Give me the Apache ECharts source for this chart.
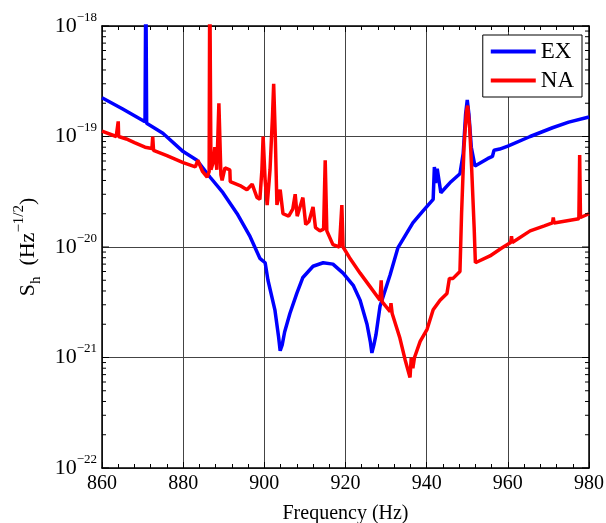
<!DOCTYPE html>
<html>
<head>
<meta charset="utf-8">
<script src="https://cdn.jsdelivr.net/npm/echarts@6/dist/echarts.min.js"></script>
<style>html,body{margin:0;padding:0;background:#fff}#c{width:606px;height:523px}</style>
</head>
<body>
<div id="c"></div>
<script>
// X tick labels
const xTicks = [860, 880, 900, 920, 940, 960, 980];
// Y decade exponents (tick labels 10^e)
const yExponents = [-22, -21, -20, -19, -18];

// EX series (frequency Hz, amplitude)
const exFreq = [860, 865, 870.6, 870.75, 870.8, 870.85, 871.0, 875, 880, 883.4, 886.6, 889.8, 893.3, 896.5, 898.9, 900.2, 900.9,
  902.6, 903.5, 903.9, 904.4, 905, 906.3, 908, 909.5, 912, 914.5, 916.9, 919.4, 921.9, 923.6, 925.3, 926.1, 926.5, 927, 927.5,
  928.5, 931, 932.9, 936.6, 939, 941.6, 941.9, 942.2, 942.6, 943.5, 946, 948.2, 949, 949.6, 950, 950.4, 951, 951.9, 955, 956.2,
  956.6, 958, 960, 965.5, 971, 975, 980];
const exVal = [2.24e-19, 1.78e-19, 1.36e-19, 1.35e-19, 3e-18, 3e-18, 1.32e-19, 1.07e-19, 7.3e-20, 6.1e-20, 4.3e-20, 3.1e-20, 2.0e-20, 1.24e-20, 7.9e-21, 7.2e-21, 5.0e-21,
  2.7e-21, 1.55e-21, 1.15e-21, 1.3e-21, 1.7e-21, 2.5e-21, 3.8e-21, 5.3e-21, 6.7e-21, 7.2e-21, 7.0e-21, 5.8e-21, 4.5e-21, 3.3e-21, 2.0e-21, 1.4e-21, 1.1e-21, 1.3e-21, 1.6e-21,
  2.9e-21, 5.6e-21, 9.8e-21, 1.65e-20, 2.1e-20, 2.7e-20, 5.3e-20, 3.8e-20, 5.1e-20, 3.1e-20, 3.9e-20, 4.6e-20, 7e-20, 1.6e-19, 2.14e-19, 1.6e-19, 8e-20, 5.4e-20, 6.3e-20, 6.6e-20,
  7.5e-20, 7.7e-20, 8.2e-20, 1.0e-19, 1.2e-19, 1.35e-19, 1.5e-19];

// NA series
const naFreq = [860, 863.5, 863.9, 864.0, 864.1, 866, 868, 870.6, 872.3, 872.5, 872.7, 876, 880, 883, 883.6, 884.8, 885.9, 886.4, 886.55, 886.7, 886.85,
  887.5, 887.8, 888.3, 888.8, 889.3, 889.6, 890.3, 891.5, 891.6, 894, 895.7, 897, 898.2, 898.9, 899.4, 899.7, 900.2, 900.7, 901.4, 902, 902.3, 902.7, 903.1,
  903.9, 904.6, 906, 907, 907.6, 908.1, 909.5, 910.2, 911, 912, 912.6, 913.7, 914.6, 915, 915.4, 916.9, 918.5, 919.1, 919.4, 921, 923.6, 926,
  928.5, 928.8, 929, 931, 931.2, 931.5, 933.4, 934.7, 935.9, 936.2, 936.6, 937, 938.4, 940.1, 941.6, 943.3, 945, 945.6, 946.5, 948.2, 948.6,
  949.2, 949.8, 950.1, 950.6, 951.1, 951.7, 952, 955.6, 958.5, 960.7, 960.9, 961.1, 965.5, 969, 971, 971.2, 971.4, 977.5, 977.7, 977.9, 980];
const naVal = [1.12e-19, 1.0e-19, 1.02e-19, 1.37e-19, 1.0e-19, 9.5e-20, 8.8e-20, 8.0e-20, 7.8e-20, 1.0e-19, 7.5e-20, 6.7e-20, 5.8e-20, 5.3e-20, 6.1e-20, 4.8e-20, 4.3e-20, 4.8e-20, 3e-18, 3e-18, 5e-20,
  6e-20, 8e-20, 5e-20, 2.0e-19, 4.5e-20, 4.0e-20, 5.2e-20, 5.0e-20, 3.9e-20, 3.6e-20, 3.3e-20, 3.7e-20, 2.8e-20, 2.7e-20, 5e-20, 1.0e-19, 4e-20, 2.4e-20, 5e-20, 1.5e-19, 3.0e-19, 1e-19, 2.4e-20,
  3.3e-20, 2.0e-20, 1.9e-20, 2.2e-20, 3.0e-20, 1.9e-20, 2.8e-20, 1.6e-20, 1.7e-20, 2.3e-20, 1.5e-20, 1.4e-20, 1.45e-20, 6.1e-20, 1.4e-20, 1.05e-20, 1.0e-20, 2.4e-20, 1.0e-20, 8e-21, 5.8e-21, 4.4e-21,
  3.3e-21, 5e-21, 3.2e-21, 2.6e-21, 3.1e-21, 2.5e-21, 1.5e-21, 9.5e-22, 6.6e-22, 1.0e-21, 8e-22, 1.0e-21, 1.4e-21, 1.8e-21, 2.7e-21, 3.3e-21, 3.8e-21, 5.2e-21, 5.2e-21, 6.0e-21, 2e-20,
  8e-20, 1.7e-19, 1.9e-19, 1.2e-19, 5e-20, 1.5e-20, 7.2e-21, 8.3e-21, 9.8e-21, 1.1e-20, 1.25e-20, 1.1e-20, 1.4e-20, 1.55e-20, 1.65e-20, 1.85e-20, 1.65e-20, 1.8e-20, 6.8e-20, 1.85e-20, 2.0e-20];

const seriesNames = ['EX', 'NA'];
const seriesColors = ['#0000ff', '#ff0000'];

// ECharts' log scale loses precision below ~1e-20, so the axis works in units of 1e-22
const E0 = yExponents[0];
const UNIT = Math.pow(10, E0);
const zip = (a, b) => a.map((v, i) => [v, b[i] / UNIT]);

const yMinU = 1, yMaxU = Math.pow(10, yExponents[yExponents.length - 1] - E0);
// log tick positions (major + minor), in axis units
const yTickVals = [];
for (let d = 0; d < yExponents.length - 1; d++) {
  for (let m = 1; m <= 9; m++) yTickVals.push([m, m * Math.pow(10, d)]);
}
yTickVals.push([1, yMaxU]);

const FONT = 'Liberation Serif';
const chart = echarts.init(document.getElementById('c'), null, {renderer: 'canvas'});
const xMin = xTicks[0], xMax = xTicks[xTicks.length - 1];

chart.setOption({
  animation: false,
  backgroundColor: '#fff',
  grid: {left: 102, right: 17, top: 26, bottom: 55, containLabel: false, outerBoundsMode: 'none'},
  legend: {
    data: seriesNames,
    orient: 'vertical',
    right: 24, top: 35,
    backgroundColor: '#fff',
    borderColor: '#000', borderWidth: 1,
    padding: [5, 8, 5, 8],
    itemGap: 6,
    itemWidth: 45, itemHeight: 4,
    icon: 'rect',
    textStyle: {fontFamily: FONT, fontSize: 23, color: '#000'}
  },
  xAxis: [{
    type: 'value', min: xMin, max: xMax, interval: 20,
    name: 'Frequency (Hz)', nameLocation: 'middle', nameGap: 36,
    nameTextStyle: {fontFamily: FONT, fontSize: 20, color: '#000'},
    axisLine: {show: true, lineStyle: {color: '#000', width: 1.5}},
    axisTick: {show: true, inside: true, length: 6, lineStyle: {color: '#000'}},
    minorTick: {show: true, splitNumber: 5, length: 4, lineStyle: {color: '#000'}},
    axisLabel: {fontFamily: FONT, fontSize: 20, color: '#000', margin: 6},
    splitLine: {show: true, lineStyle: {color: ['#444'], width: 1}}
  }, {
    type: 'value', min: xMin, max: xMax, interval: 20, position: 'top',
    axisLine: {show: true, lineStyle: {color: '#000', width: 1.5}},
    axisTick: {show: true, inside: true, length: 6, lineStyle: {color: '#000'}},
    minorTick: {show: true, splitNumber: 5, length: 4, lineStyle: {color: '#000'}},
    axisLabel: {show: false}, splitLine: {show: false}
  }],
  yAxis: [{
    type: 'log', logBase: 10, min: yMinU, max: yMaxU,
    name: '{n|S}{sub|h}{n|  (Hz}{sup|−1/2}{n|)}',
    nameLocation: 'middle', nameGap: 58,
    nameTextStyle: {
      color: '#000',
      rich: {
        n: {fontFamily: FONT, fontSize: 22, color: '#000', lineHeight: 32},
        sub: {fontFamily: FONT, fontSize: 15, color: '#000', verticalAlign: 'bottom', lineHeight: 15},
        sup: {fontFamily: FONT, fontSize: 15, color: '#000', verticalAlign: 'top', lineHeight: 15}
      }
    },
    axisLine: {show: true, lineStyle: {color: '#000', width: 1.5}},
    axisTick: {show: false},
    axisLabel: {
      margin: 5,
      formatter: v => '{b|10}{s|−' + (-(Math.round(Math.log10(v)) + E0)) + '}',
      rich: {
        b: {fontFamily: FONT, fontSize: 22, color: '#000', lineHeight: 30},
        s: {fontFamily: FONT, fontSize: 13, color: '#000', verticalAlign: 'top', lineHeight: 13}
      }
    },
    splitLine: {show: true, lineStyle: {color: '#444', width: 1}}
  }, {
    type: 'log', logBase: 10, min: yMinU, max: yMaxU, position: 'right',
    axisLine: {show: true, lineStyle: {color: '#000', width: 1.5}},
    axisTick: {show: false}, axisLabel: {show: false}, splitLine: {show: false}
  }],
  series: [
    {
      name: seriesNames[0], type: 'line', data: zip(exFreq, exVal), showSymbol: false, symbol: 'none',
      lineStyle: {color: seriesColors[0], width: 3.5}, itemStyle: {color: seriesColors[0]}, clip: true, z: 3
    },
    {
      name: seriesNames[1], type: 'line', data: zip(naFreq, naVal), showSymbol: false, symbol: 'none',
      lineStyle: {color: seriesColors[1], width: 3.5}, itemStyle: {color: seriesColors[1]}, clip: true, z: 4
    },
    {
      type: 'custom', silent: true, z: 5,
      data: yTickVals,
      renderItem: (params, api) => {
        const m = api.value(0), v = api.value(1);
        const pl = api.coord([xMin, v]), pr = api.coord([xMax, v]);
        const len = m === 1 ? 7 : 4;
        const style = {stroke: '#000', lineWidth: 1};
        return {type: 'group', children: [
          {type: 'line', shape: {x1: pl[0], y1: pl[1], x2: pl[0] + len, y2: pl[1]}, style},
          {type: 'line', shape: {x1: pr[0] - len, y1: pr[1], x2: pr[0], y2: pr[1]}, style}
        ]};
      },
      encode: {x: 0, y: 1}
    }
  ]
});
</script>
</body>
</html>
